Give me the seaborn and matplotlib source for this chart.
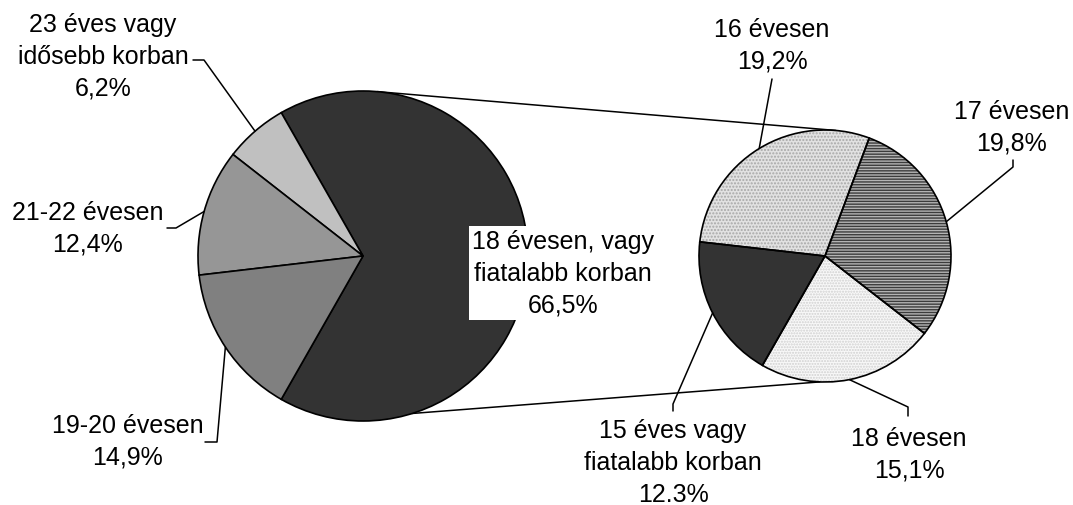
import numpy as np
import matplotlib.pyplot as plt
import seaborn as sns

# main pie (left)
main_labels = ['18 évesen, vagy\nfiatalabb korban', '23 éves vagy\nidősebb korban',
               '21-22 évesen', '19-20 évesen']
main_values = [66.5, 6.2, 12.4, 14.9]
main_pct = ['66,5%', '6,2%', '12,4%', '14,9%']
main_colors = ['#333333', '#c0c0c0', '#969696', '#808080']

# breakdown of the first slice (right pie)
sub_labels = ['17 évesen', '16 évesen', '15 éves vagy\nfiatalabb korban', '18 évesen']
sub_values = [19.8, 19.2, 12.3, 15.1]
sub_pct = ['19,8%', '19,2%', '12.3%', '15,1%']
sub_colors = ['#b4b4b4', '#e2e2e2', '#333333', '#f8f8f8']
sub_hatch = ['------', '.....', None, '......']
sub_hatch_col = ['#3c3c3c', '#a8a8a8', '#333333', '#d0d0d0']

sns.set_theme(style='white')
plt.rcParams['font.family'] = ['Liberation Sans', 'DejaVu Sans']
plt.rcParams['hatch.linewidth'] = 1.0

W, H = 1073, 506
fig = plt.figure(figsize=(W / 100, H / 100), dpi=100)
ax = fig.add_axes([0, 0, 1, 1])

c1, r1 = (363, H - 257), 165
c2, r2 = (825, H - 257), 126

start1 = -main_values[0] / sum(main_values) * 180
w1, _ = ax.pie(main_values, colors=main_colors, startangle=start1, center=c1, radius=r1,
               wedgeprops=dict(edgecolor='black', linewidth=1.2))

# right pie: fill + hatches first, outlines on top
w2, _ = ax.pie(sub_values, colors=sub_colors, startangle=-37.9, center=c2, radius=r2,
               wedgeprops=dict(linewidth=0))
for w, h, hc in zip(w2, sub_hatch, sub_hatch_col):
    if h:
        w.set_hatch(h)
        w.set_edgecolor(hc)
ax.pie(sub_values, colors=['none'] * 4, startangle=-37.9, center=c2, radius=r2,
       wedgeprops=dict(edgecolor='black', linewidth=1.2))


def edge_pt(c, r, ang):
    a = np.deg2rad(ang)
    return c[0] + r * np.cos(a), c[1] + r * np.sin(a)


# connector lines between the pies
for a1, a2 in [(85, 85), (-72.6, -92.3)]:
    p, q = edge_pt(c1, r1, a1), edge_pt(c2, r2, a2)
    ax.plot([p[0], q[0]], [p[1], q[1]], color='black', lw=1.1, zorder=0)

# label positions (pixel coords from top) and leader elbows
main_pos = [(563, 274), (103, 57), (88, 229), (128, 442)]
main_lead = [None, [(193, 61), (204, 61)], [(167, 229), (176, 229)], [(205, 443), (217, 443)]]
sub_pos = [(1012, 128), (772, 46), (673, 463), (909, 455)]
sub_lead = [[(1013, 161), (1013, 168)], [(772, 80)], [(673, 412), (673, 405)], [(908, 417), (908, 408)]]


def leaders(wedges, c, r, lead):
    for w, pts in zip(wedges, lead):
        if pts is None:
            continue
        mid = (w.theta1 + w.theta2) / 2
        ex, ey = edge_pt(c, r, mid)
        xs = [p[0] for p in pts] + [ex]
        ys = [H - p[1] for p in pts] + [ey]
        ax.plot(xs, ys, color='black', lw=1.1, zorder=5)


leaders(w1, c1, r1, main_lead)
leaders(w2, c2, r2, sub_lead)

fs, ls = 18, 1.42
for i, (lab, pct, pos) in enumerate(zip(main_labels, main_pct, main_pos)):
    box = dict(facecolor='white', edgecolor='none', pad=2) if i == 0 else None
    ax.text(pos[0], H - pos[1], lab + '\n' + pct, ha='center', va='center',
            fontsize=fs, linespacing=ls, color='black', bbox=box, zorder=6)
for lab, pct, pos in zip(sub_labels, sub_pct, sub_pos):
    ax.text(pos[0], H - pos[1], lab + '\n' + pct, ha='center', va='center',
            fontsize=fs, linespacing=ls, color='black', zorder=6)

ax.set_xlim(0, W)
ax.set_ylim(0, H)
ax.set_aspect('auto')
ax.axis('off')
fig.savefig('out.png', dpi=100, facecolor='white')
